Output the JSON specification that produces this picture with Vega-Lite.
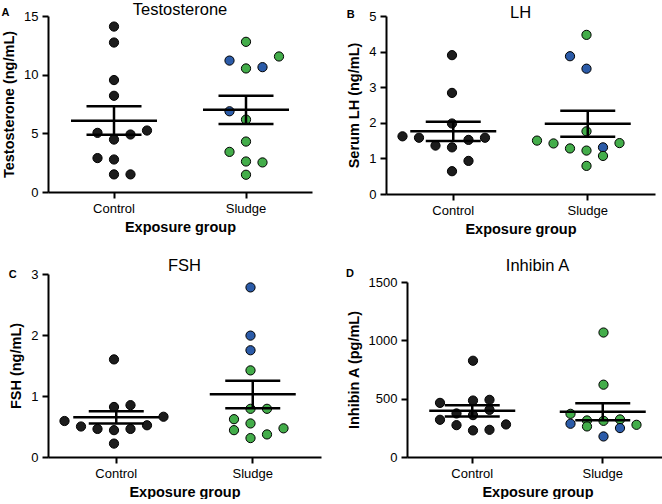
{
  "$schema": "https://vega.github.io/schema/vega-lite/v6.json",
  "background": "white",
  "padding": {"left": 1, "top": 2, "right": 0, "bottom": 0},
  "config": {
    "font": "Liberation Sans",
    "view": {"stroke": null},
    "axis": {"domainColor": "black", "domainWidth": 2, "tickColor": "black", "tickWidth": 2, "tickSize": 6, "labelFontSize": 13, "labelColor": "black", "titleFontSize": 14.5, "titleFontWeight": "bold", "titleColor": "black", "grid": false, "labelPadding": 4},
    "axisX": {"labelAngle": 0, "titlePadding": 5},
    "axisY": {"titlePadding": 7}
  },
  "datasets": {
    "pts": [
      {"panel": "A", "group": "Control", "kind": "control", "slot": 0, "value": 14.1},
      {"panel": "A", "group": "Control", "kind": "control", "slot": 0, "value": 12.74},
      {"panel": "A", "group": "Control", "kind": "control", "slot": 0, "value": 9.54},
      {"panel": "A", "group": "Control", "kind": "control", "slot": 0, "value": 8.2},
      {"panel": "A", "group": "Control", "kind": "control", "slot": -1, "value": 5.04},
      {"panel": "A", "group": "Control", "kind": "control", "slot": 0, "value": 4.47},
      {"panel": "A", "group": "Control", "kind": "control", "slot": 1, "value": 4.9},
      {"panel": "A", "group": "Control", "kind": "control", "slot": 2, "value": 5.24},
      {"panel": "A", "group": "Control", "kind": "control", "slot": -1, "value": 2.89},
      {"panel": "A", "group": "Control", "kind": "control", "slot": 0, "value": 2.77},
      {"panel": "A", "group": "Control", "kind": "control", "slot": 0, "value": 1.5},
      {"panel": "A", "group": "Control", "kind": "control", "slot": 1, "value": 1.5},
      {"panel": "A", "group": "Sludge", "kind": "green", "slot": 0, "value": 12.8},
      {"panel": "A", "group": "Sludge", "kind": "blue", "slot": -1, "value": 11.2},
      {"panel": "A", "group": "Sludge", "kind": "green", "slot": 2, "value": 11.55},
      {"panel": "A", "group": "Sludge", "kind": "green", "slot": 0, "value": 10.53},
      {"panel": "A", "group": "Sludge", "kind": "blue", "slot": 1, "value": 10.64},
      {"panel": "A", "group": "Sludge", "kind": "blue", "slot": -1, "value": 6.88},
      {"panel": "A", "group": "Sludge", "kind": "green", "slot": 0, "value": 6.17},
      {"panel": "A", "group": "Sludge", "kind": "green", "slot": 0, "value": 4.3},
      {"panel": "A", "group": "Sludge", "kind": "green", "slot": -1, "value": 3.42},
      {"panel": "A", "group": "Sludge", "kind": "green", "slot": 0, "value": 2.6},
      {"panel": "A", "group": "Sludge", "kind": "green", "slot": 1, "value": 2.52},
      {"panel": "A", "group": "Sludge", "kind": "green", "slot": 0, "value": 1.47},
      {"panel": "B", "group": "Control", "kind": "control", "slot": 0, "value": 3.9},
      {"panel": "B", "group": "Control", "kind": "control", "slot": 0, "value": 2.84},
      {"panel": "B", "group": "Control", "kind": "control", "slot": 0, "value": 1.98},
      {"panel": "B", "group": "Control", "kind": "control", "slot": -3, "value": 1.62},
      {"panel": "B", "group": "Control", "kind": "control", "slot": -2, "value": 1.58},
      {"panel": "B", "group": "Control", "kind": "control", "slot": -1, "value": 1.36},
      {"panel": "B", "group": "Control", "kind": "control", "slot": 0, "value": 1.31},
      {"panel": "B", "group": "Control", "kind": "control", "slot": 1, "value": 1.52},
      {"panel": "B", "group": "Control", "kind": "control", "slot": 2, "value": 1.58},
      {"panel": "B", "group": "Control", "kind": "control", "slot": 1, "value": 0.93},
      {"panel": "B", "group": "Control", "kind": "control", "slot": 0, "value": 0.64},
      {"panel": "B", "group": "Sludge", "kind": "green", "slot": 0, "value": 4.47},
      {"panel": "B", "group": "Sludge", "kind": "blue", "slot": -1, "value": 3.87},
      {"panel": "B", "group": "Sludge", "kind": "blue", "slot": 0, "value": 3.52},
      {"panel": "B", "group": "Sludge", "kind": "green", "slot": 0, "value": 1.76},
      {"panel": "B", "group": "Sludge", "kind": "green", "slot": -3, "value": 1.5},
      {"panel": "B", "group": "Sludge", "kind": "green", "slot": -2, "value": 1.42},
      {"panel": "B", "group": "Sludge", "kind": "green", "slot": -1, "value": 1.28},
      {"panel": "B", "group": "Sludge", "kind": "green", "slot": 0, "value": 1.22},
      {"panel": "B", "group": "Sludge", "kind": "blue", "slot": 1, "value": 1.31},
      {"panel": "B", "group": "Sludge", "kind": "green", "slot": 2, "value": 1.43},
      {"panel": "B", "group": "Sludge", "kind": "green", "slot": 1, "value": 1.07},
      {"panel": "B", "group": "Sludge", "kind": "green", "slot": 0, "value": 0.79},
      {"panel": "C", "group": "Control", "kind": "control", "slot": 0, "value": 1.6},
      {"panel": "C", "group": "Control", "kind": "control", "slot": 0, "value": 0.82},
      {"panel": "C", "group": "Control", "kind": "control", "slot": 1, "value": 0.85},
      {"panel": "C", "group": "Control", "kind": "control", "slot": -3, "value": 0.59},
      {"panel": "C", "group": "Control", "kind": "control", "slot": -2, "value": 0.5},
      {"panel": "C", "group": "Control", "kind": "control", "slot": -1, "value": 0.46},
      {"panel": "C", "group": "Control", "kind": "control", "slot": 0, "value": 0.44},
      {"panel": "C", "group": "Control", "kind": "control", "slot": 1, "value": 0.46},
      {"panel": "C", "group": "Control", "kind": "control", "slot": 2, "value": 0.52},
      {"panel": "C", "group": "Control", "kind": "control", "slot": 3, "value": 0.66},
      {"panel": "C", "group": "Control", "kind": "control", "slot": 0, "value": 0.22},
      {"panel": "C", "group": "Sludge", "kind": "blue", "slot": 0, "value": 2.78},
      {"panel": "C", "group": "Sludge", "kind": "blue", "slot": 0, "value": 1.99},
      {"panel": "C", "group": "Sludge", "kind": "blue", "slot": 0, "value": 1.75},
      {"panel": "C", "group": "Sludge", "kind": "green", "slot": 0, "value": 1.42},
      {"panel": "C", "group": "Sludge", "kind": "green", "slot": 0, "value": 0.79},
      {"panel": "C", "group": "Sludge", "kind": "green", "slot": 1, "value": 0.79},
      {"panel": "C", "group": "Sludge", "kind": "green", "slot": -1, "value": 0.62},
      {"panel": "C", "group": "Sludge", "kind": "green", "slot": 0, "value": 0.55},
      {"panel": "C", "group": "Sludge", "kind": "green", "slot": -1, "value": 0.44},
      {"panel": "C", "group": "Sludge", "kind": "green", "slot": 2, "value": 0.47},
      {"panel": "C", "group": "Sludge", "kind": "green", "slot": 0, "value": 0.31},
      {"panel": "C", "group": "Sludge", "kind": "green", "slot": 1, "value": 0.37},
      {"panel": "D", "group": "Control", "kind": "control", "slot": 0, "value": 825},
      {"panel": "D", "group": "Control", "kind": "control", "slot": -2, "value": 464},
      {"panel": "D", "group": "Control", "kind": "control", "slot": 0, "value": 484},
      {"panel": "D", "group": "Control", "kind": "control", "slot": 1, "value": 490},
      {"panel": "D", "group": "Control", "kind": "control", "slot": -1, "value": 373},
      {"panel": "D", "group": "Control", "kind": "control", "slot": 0, "value": 359},
      {"panel": "D", "group": "Control", "kind": "control", "slot": 1, "value": 404},
      {"panel": "D", "group": "Control", "kind": "control", "slot": -2, "value": 319},
      {"panel": "D", "group": "Control", "kind": "control", "slot": -1, "value": 273},
      {"panel": "D", "group": "Control", "kind": "control", "slot": 2, "value": 279},
      {"panel": "D", "group": "Control", "kind": "control", "slot": 0, "value": 228},
      {"panel": "D", "group": "Control", "kind": "control", "slot": 1, "value": 233},
      {"panel": "D", "group": "Sludge", "kind": "green", "slot": 0, "value": 1067},
      {"panel": "D", "group": "Sludge", "kind": "green", "slot": 0, "value": 620},
      {"panel": "D", "group": "Sludge", "kind": "green", "slot": -2, "value": 370},
      {"panel": "D", "group": "Sludge", "kind": "green", "slot": -1, "value": 313},
      {"panel": "D", "group": "Sludge", "kind": "green", "slot": 0, "value": 310},
      {"panel": "D", "group": "Sludge", "kind": "green", "slot": 1, "value": 322},
      {"panel": "D", "group": "Sludge", "kind": "blue", "slot": -2, "value": 285},
      {"panel": "D", "group": "Sludge", "kind": "green", "slot": -1, "value": 262},
      {"panel": "D", "group": "Sludge", "kind": "green", "slot": 2, "value": 276},
      {"panel": "D", "group": "Sludge", "kind": "blue", "slot": 1, "value": 248},
      {"panel": "D", "group": "Sludge", "kind": "blue", "slot": 0, "value": 176}
    ],
    "sum": [
      {"panel": "A", "group": "Control", "mean": 6.08, "lo": 4.87, "hi": 7.3},
      {"panel": "A", "group": "Sludge", "mean": 7.02, "lo": 5.8, "hi": 8.2},
      {"panel": "B", "group": "Control", "mean": 1.76, "lo": 1.49, "hi": 2.03},
      {"panel": "B", "group": "Sludge", "mean": 1.97, "lo": 1.61, "hi": 2.34},
      {"panel": "C", "group": "Control", "mean": 0.65, "lo": 0.55, "hi": 0.75},
      {"panel": "C", "group": "Sludge", "mean": 1.03, "lo": 0.8, "hi": 1.25},
      {"panel": "D", "group": "Control", "mean": 396, "lo": 347, "hi": 444},
      {"panel": "D", "group": "Sludge", "mean": 387, "lo": 316, "hi": 461}
    ]
  },
  "columns": 2,
  "align": "none",
  "bounds": "full",
  "spacing": {"column": 25, "row": 22},
  "concat": [
    {
      "title": {"text": "A", "anchor": "start", "frame": "bounds", "fontSize": 11, "fontWeight": "bold", "color": "black", "offset": -16},
      "vconcat": [{
        "width": 264, "height": 176,
        "title": {"text": "Testosterone", "fontSize": 16.5, "fontWeight": "normal", "color": "black", "offset": -8.5},
        "layer": [
          {"data": {"name": "pts"}, "transform": [{"filter": "datum.panel === 'A'"}],
           "mark": {"type": "circle", "size": 85, "stroke": "black", "strokeWidth": 1, "opacity": 1},
           "encoding": {
             "x": {"field": "group", "type": "nominal", "scale": {"type": "band", "paddingInner": 0, "paddingOuter": 0}, "axis": {"title": "Exposure group"}},
             "xOffset": {"field": "slot", "type": "ordinal", "scale": {"type": "point", "domain": [-3, -2, -1, 0, 1, 2, 3], "padding": 2}},
             "y": {"field": "value", "type": "quantitative", "scale": {"domain": [0, 15]}, "axis": {"values": [0, 5, 10, 15], "format": "d", "title": "Testosterone (ng/mL)"}},
             "fill": {"field": "kind", "type": "nominal", "scale": {"domain": ["control", "blue", "green"], "range": ["#1c1c1c", "#2b5ba8", "#43ad4a"]}, "legend": null}
           }},
          {"data": {"name": "sum"}, "transform": [{"filter": "datum.panel === 'A'"}],
           "mark": {"type": "tick", "size": 86, "thickness": 2.5, "color": "black", "opacity": 1},
           "encoding": {"x": {"field": "group", "type": "nominal", "axis": {"title": "Exposure group"}}, "y": {"field": "mean", "type": "quantitative", "scale": {"domain": [0, 15]}, "axis": {"values": [0, 5, 10, 15], "format": "d", "title": "Testosterone (ng/mL)"}}}},
          {"data": {"name": "sum"}, "transform": [{"filter": "datum.panel === 'A'"}],
           "mark": {"type": "tick", "size": 55, "thickness": 2.5, "color": "black", "opacity": 1},
           "encoding": {"x": {"field": "group", "type": "nominal", "axis": {"title": "Exposure group"}}, "y": {"field": "lo", "type": "quantitative", "scale": {"domain": [0, 15]}, "axis": {"values": [0, 5, 10, 15], "format": "d", "title": "Testosterone (ng/mL)"}}}},
          {"data": {"name": "sum"}, "transform": [{"filter": "datum.panel === 'A'"}],
           "mark": {"type": "tick", "size": 55, "thickness": 2.5, "color": "black", "opacity": 1},
           "encoding": {"x": {"field": "group", "type": "nominal", "axis": {"title": "Exposure group"}}, "y": {"field": "hi", "type": "quantitative", "scale": {"domain": [0, 15]}, "axis": {"values": [0, 5, 10, 15], "format": "d", "title": "Testosterone (ng/mL)"}}}},
          {"data": {"name": "sum"}, "transform": [{"filter": "datum.panel === 'A'"}],
           "mark": {"type": "rule", "strokeWidth": 2.5, "color": "black"},
           "encoding": {"x": {"field": "group", "type": "nominal", "bandPosition": 0.5, "axis": {"title": "Exposure group"}}, "y": {"field": "lo", "type": "quantitative", "scale": {"domain": [0, 15]}, "axis": {"values": [0, 5, 10, 15], "format": "d", "title": "Testosterone (ng/mL)"}}, "y2": {"field": "hi"}}}
        ]
      }]
    },
    {
      "title": {"text": "B", "anchor": "start", "frame": "bounds", "fontSize": 11, "fontWeight": "bold", "color": "black", "offset": -15},
      "vconcat": [{
        "width": 269, "height": 178,
        "title": {"text": "LH", "fontSize": 16.5, "fontWeight": "normal", "color": "black", "offset": -11},
        "layer": [
          {"data": {"name": "pts"}, "transform": [{"filter": "datum.panel === 'B'"}],
           "mark": {"type": "circle", "size": 85, "stroke": "black", "strokeWidth": 1, "opacity": 1},
           "encoding": {
             "x": {"field": "group", "type": "nominal", "scale": {"type": "band", "paddingInner": 0, "paddingOuter": 0}, "axis": {"title": "Exposure group"}},
             "xOffset": {"field": "slot", "type": "ordinal", "scale": {"type": "point", "domain": [-3, -2, -1, 0, 1, 2, 3], "padding": 2}},
             "y": {"field": "value", "type": "quantitative", "scale": {"domain": [0, 5]}, "axis": {"values": [0, 1, 2, 3, 4, 5], "format": "d", "title": "Serum LH (ng/mL)"}},
             "fill": {"field": "kind", "type": "nominal", "scale": {"domain": ["control", "blue", "green"], "range": ["#1c1c1c", "#2b5ba8", "#43ad4a"]}, "legend": null}
           }},
          {"data": {"name": "sum"}, "transform": [{"filter": "datum.panel === 'B'"}],
           "mark": {"type": "tick", "size": 86, "thickness": 2.5, "color": "black", "opacity": 1},
           "encoding": {"x": {"field": "group", "type": "nominal", "axis": {"title": "Exposure group"}}, "y": {"field": "mean", "type": "quantitative", "scale": {"domain": [0, 5]}, "axis": {"values": [0, 1, 2, 3, 4, 5], "format": "d", "title": "Serum LH (ng/mL)"}}}},
          {"data": {"name": "sum"}, "transform": [{"filter": "datum.panel === 'B'"}],
           "mark": {"type": "tick", "size": 55, "thickness": 2.5, "color": "black", "opacity": 1},
           "encoding": {"x": {"field": "group", "type": "nominal", "axis": {"title": "Exposure group"}}, "y": {"field": "lo", "type": "quantitative", "scale": {"domain": [0, 5]}, "axis": {"values": [0, 1, 2, 3, 4, 5], "format": "d", "title": "Serum LH (ng/mL)"}}}},
          {"data": {"name": "sum"}, "transform": [{"filter": "datum.panel === 'B'"}],
           "mark": {"type": "tick", "size": 55, "thickness": 2.5, "color": "black", "opacity": 1},
           "encoding": {"x": {"field": "group", "type": "nominal", "axis": {"title": "Exposure group"}}, "y": {"field": "hi", "type": "quantitative", "scale": {"domain": [0, 5]}, "axis": {"values": [0, 1, 2, 3, 4, 5], "format": "d", "title": "Serum LH (ng/mL)"}}}},
          {"data": {"name": "sum"}, "transform": [{"filter": "datum.panel === 'B'"}],
           "mark": {"type": "rule", "strokeWidth": 2.5, "color": "black"},
           "encoding": {"x": {"field": "group", "type": "nominal", "bandPosition": 0.5, "axis": {"title": "Exposure group"}}, "y": {"field": "lo", "type": "quantitative", "scale": {"domain": [0, 5]}, "axis": {"values": [0, 1, 2, 3, 4, 5], "format": "d", "title": "Serum LH (ng/mL)"}}, "y2": {"field": "hi"}}}
        ]
      }]
    },
    {
      "title": {"text": "C", "anchor": "start", "frame": "bounds", "fontSize": 11, "fontWeight": "bold", "color": "black", "offset": -21.5},
      "vconcat": [{
        "width": 273, "height": 183,
        "title": {"text": "FSH", "fontSize": 16.5, "fontWeight": "normal", "color": "black", "offset": -6.5},
        "layer": [
          {"data": {"name": "pts"}, "transform": [{"filter": "datum.panel === 'C'"}],
           "mark": {"type": "circle", "size": 85, "stroke": "black", "strokeWidth": 1, "opacity": 1},
           "encoding": {
             "x": {"field": "group", "type": "nominal", "scale": {"type": "band", "paddingInner": 0, "paddingOuter": 0}, "axis": {"title": "Exposure group"}},
             "xOffset": {"field": "slot", "type": "ordinal", "scale": {"type": "point", "domain": [-3, -2, -1, 0, 1, 2, 3], "padding": 2}},
             "y": {"field": "value", "type": "quantitative", "scale": {"domain": [0, 3]}, "axis": {"values": [0, 1, 2, 3], "format": "d", "title": "FSH (ng/mL)"}},
             "fill": {"field": "kind", "type": "nominal", "scale": {"domain": ["control", "blue", "green"], "range": ["#1c1c1c", "#2b5ba8", "#43ad4a"]}, "legend": null}
           }},
          {"data": {"name": "sum"}, "transform": [{"filter": "datum.panel === 'C'"}],
           "mark": {"type": "tick", "size": 86, "thickness": 2.5, "color": "black", "opacity": 1},
           "encoding": {"x": {"field": "group", "type": "nominal", "axis": {"title": "Exposure group"}}, "y": {"field": "mean", "type": "quantitative", "scale": {"domain": [0, 3]}, "axis": {"values": [0, 1, 2, 3], "format": "d", "title": "FSH (ng/mL)"}}}},
          {"data": {"name": "sum"}, "transform": [{"filter": "datum.panel === 'C'"}],
           "mark": {"type": "tick", "size": 55, "thickness": 2.5, "color": "black", "opacity": 1},
           "encoding": {"x": {"field": "group", "type": "nominal", "axis": {"title": "Exposure group"}}, "y": {"field": "lo", "type": "quantitative", "scale": {"domain": [0, 3]}, "axis": {"values": [0, 1, 2, 3], "format": "d", "title": "FSH (ng/mL)"}}}},
          {"data": {"name": "sum"}, "transform": [{"filter": "datum.panel === 'C'"}],
           "mark": {"type": "tick", "size": 55, "thickness": 2.5, "color": "black", "opacity": 1},
           "encoding": {"x": {"field": "group", "type": "nominal", "axis": {"title": "Exposure group"}}, "y": {"field": "hi", "type": "quantitative", "scale": {"domain": [0, 3]}, "axis": {"values": [0, 1, 2, 3], "format": "d", "title": "FSH (ng/mL)"}}}},
          {"data": {"name": "sum"}, "transform": [{"filter": "datum.panel === 'C'"}],
           "mark": {"type": "rule", "strokeWidth": 2.5, "color": "black"},
           "encoding": {"x": {"field": "group", "type": "nominal", "bandPosition": 0.5, "axis": {"title": "Exposure group"}}, "y": {"field": "lo", "type": "quantitative", "scale": {"domain": [0, 3]}, "axis": {"values": [0, 1, 2, 3], "format": "d", "title": "FSH (ng/mL)"}}, "y2": {"field": "hi"}}}
        ]
      }]
    },
    {
      "title": {"text": "D", "anchor": "start", "frame": "bounds", "fontSize": 11, "fontWeight": "bold", "color": "black", "offset": -21},
      "vconcat": [{
        "width": 261, "height": 175,
        "title": {"text": "Inhibin A", "fontSize": 16.5, "fontWeight": "normal", "color": "black", "offset": 1.5},
        "layer": [
          {"data": {"name": "pts"}, "transform": [{"filter": "datum.panel === 'D'"}],
           "mark": {"type": "circle", "size": 85, "stroke": "black", "strokeWidth": 1, "opacity": 1},
           "encoding": {
             "x": {"field": "group", "type": "nominal", "scale": {"type": "band", "paddingInner": 0, "paddingOuter": 0}, "axis": {"title": "Exposure group"}},
             "xOffset": {"field": "slot", "type": "ordinal", "scale": {"type": "point", "domain": [-3, -2, -1, 0, 1, 2, 3], "padding": 2}},
             "y": {"field": "value", "type": "quantitative", "scale": {"domain": [0, 1500]}, "axis": {"values": [0, 500, 1000, 1500], "format": "d", "title": "Inhibin A (pg/mL)"}},
             "fill": {"field": "kind", "type": "nominal", "scale": {"domain": ["control", "blue", "green"], "range": ["#1c1c1c", "#2b5ba8", "#43ad4a"]}, "legend": null}
           }},
          {"data": {"name": "sum"}, "transform": [{"filter": "datum.panel === 'D'"}],
           "mark": {"type": "tick", "size": 86, "thickness": 2.5, "color": "black", "opacity": 1},
           "encoding": {"x": {"field": "group", "type": "nominal", "axis": {"title": "Exposure group"}}, "y": {"field": "mean", "type": "quantitative", "scale": {"domain": [0, 1500]}, "axis": {"values": [0, 500, 1000, 1500], "format": "d", "title": "Inhibin A (pg/mL)"}}}},
          {"data": {"name": "sum"}, "transform": [{"filter": "datum.panel === 'D'"}],
           "mark": {"type": "tick", "size": 55, "thickness": 2.5, "color": "black", "opacity": 1},
           "encoding": {"x": {"field": "group", "type": "nominal", "axis": {"title": "Exposure group"}}, "y": {"field": "lo", "type": "quantitative", "scale": {"domain": [0, 1500]}, "axis": {"values": [0, 500, 1000, 1500], "format": "d", "title": "Inhibin A (pg/mL)"}}}},
          {"data": {"name": "sum"}, "transform": [{"filter": "datum.panel === 'D'"}],
           "mark": {"type": "tick", "size": 55, "thickness": 2.5, "color": "black", "opacity": 1},
           "encoding": {"x": {"field": "group", "type": "nominal", "axis": {"title": "Exposure group"}}, "y": {"field": "hi", "type": "quantitative", "scale": {"domain": [0, 1500]}, "axis": {"values": [0, 500, 1000, 1500], "format": "d", "title": "Inhibin A (pg/mL)"}}}},
          {"data": {"name": "sum"}, "transform": [{"filter": "datum.panel === 'D'"}],
           "mark": {"type": "rule", "strokeWidth": 2.5, "color": "black"},
           "encoding": {"x": {"field": "group", "type": "nominal", "bandPosition": 0.5, "axis": {"title": "Exposure group"}}, "y": {"field": "lo", "type": "quantitative", "scale": {"domain": [0, 1500]}, "axis": {"values": [0, 500, 1000, 1500], "format": "d", "title": "Inhibin A (pg/mL)"}}, "y2": {"field": "hi"}}}
        ]
      }]
    }
  ]
}
